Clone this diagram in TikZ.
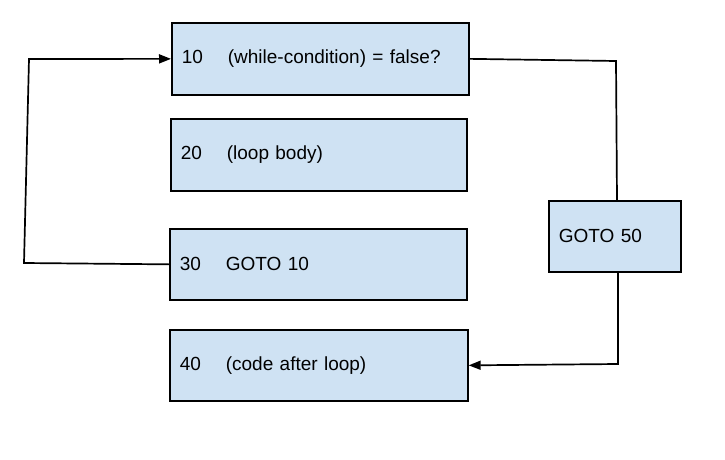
\documentclass[tikz,border=0pt]{standalone}
\usepackage{fontspec}
\setmainfont{Liberation Sans}
\usetikzlibrary{arrows.meta}
\definecolor{boxfill}{HTML}{CFE2F3}
\newcommand\codeline[2]{\makebox[46pt][l]{#1}#2}
\begin{document}
\begin{tikzpicture}[x=1pt,y=-1pt,
  box/.style={draw=black, line width=1.7pt, fill=boxfill, anchor=north west,
    inner xsep=10pt, inner ysep=0pt, align=left,
    font=\fontsize{19}{22}\selectfont},
  conn/.style={line width=1.7pt, line join=miter},
  arr/.style={conn, -{Triangle[length=12pt,width=9pt]}}]
\useasboundingbox (0,0) rectangle (725,460);
\node[box, text width=277pt, minimum height=72pt] (b10) at (171,22)
  {\codeline{10}{(while-condition) = false?}};
\node[box, text width=276pt, minimum height=72pt] (b20) at (170,118)
  {\codeline{20}{(loop body)}};
\node[box, text width=277pt, minimum height=71pt] (b30) at (169,228)
  {\codeline{30}{GOTO 10}};
\node[box, text width=278pt, minimum height=71pt] (b40) at (169,329)
  {\codeline{40}{(code after loop)}};
\node[box, text width=112pt, minimum height=71pt] (g50) at (548,200)
  {GOTO 50};
\coordinate (l1) at (24,263);
\coordinate (l2) at (29,59);
\coordinate (r1) at (616,61);
\coordinate (r2) at (617,200);
\coordinate (r3) at (618,271);
\coordinate (r4) at (618,364);
\draw[arr] (b30.west) -- (l1) -- (l2) -- (b10.west);
\draw[conn] (b10.east) -- (r1) -- (r2);
\draw[arr] (r3) -- (r4) -- (b40.east);
\end{tikzpicture}
\end{document}
